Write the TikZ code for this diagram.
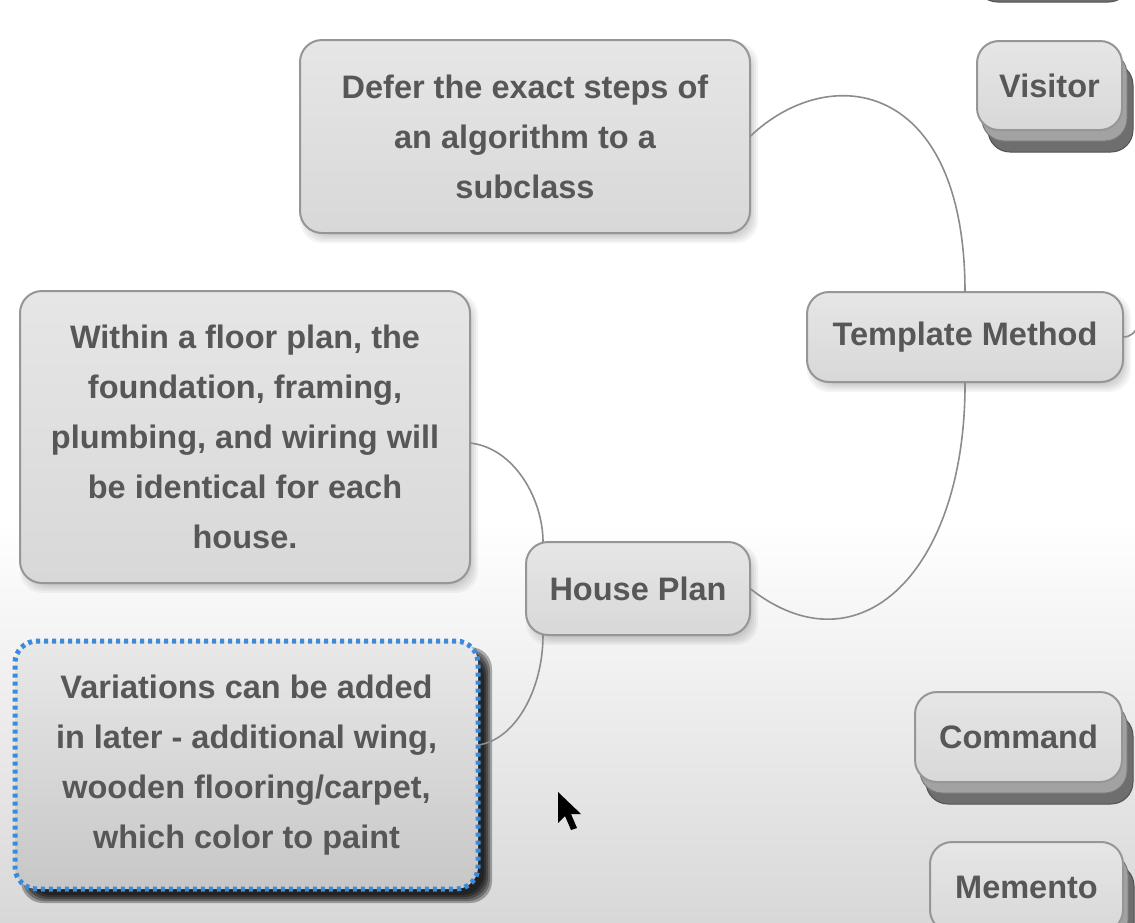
\documentclass[tikz,border=0pt]{standalone}
\usepackage{fontspec}
\setmainfont{Liberation Sans}
\usetikzlibrary{calc}
\definecolor{boxtop}{HTML}{E6E6E6}
\definecolor{boxbot}{HTML}{D8D8D8}
\definecolor{boxline}{HTML}{969696}
\definecolor{txtc}{HTML}{575757}
\definecolor{connc}{HTML}{8C8C8C}
\definecolor{selblue}{HTML}{3C8BDB}
\definecolor{layermid}{HTML}{A2A2A2}
\definecolor{layerdark}{HTML}{6E6E6E}
\definecolor{bgbot}{HTML}{D8D8D8}
\pgfdeclarelayer{bgl}
\pgfdeclarelayer{shadowl}
\pgfsetlayers{bgl,shadowl,main}
\tikzset{
  mbox/.style={draw=boxline, line width=2pt, rounded corners=22pt,
    top color=boxtop, bottom color=boxbot, text=txtc,
    font=\fontsize{32.5}{50}\selectfont\bfseries, align=center,
    inner sep=0pt, outer sep=0pt},
  selbox/.style={mbox, draw=selblue, line width=5pt, dash pattern=on 4pt off 4pt,
    top color=boxtop!90!white, bottom color=boxbot!92!black},
  conn/.style={draw=connc, line width=1.6pt},
  darklayer/.style={fill=layerdark, draw=layerdark!75!black, line width=1pt, rounded corners=22pt},
  midlayer/.style={fill=layermid, draw=layermid!75!black, line width=1pt, rounded corners=22pt},
}
\newcommand{\softshadow}[4]{%
  \begin{pgfonlayer}{shadowl}
    \foreach \k in {-4,-2,0,2,4}{
      \fill[black, opacity=#4, rounded corners=22pt]
        ($(#1.north west)+({#2+\k},{#3+\k})$) rectangle ($(#1.south east)+({#2-\k},{#3-\k})$);
    }
  \end{pgfonlayer}}
\newcommand{\stacklayers}[1]{%
  \begin{pgfonlayer}{shadowl}
    \path[darklayer] ($(#1.north west)+(11,22)$) rectangle ($(#1.south east)+(11,22)$);
    \path[midlayer] ($(#1.north west)+(5,11)$) rectangle ($(#1.south east)+(5,11)$);
  \end{pgfonlayer}}
\begin{document}
\begin{tikzpicture}[x=1pt, y=-1pt]
\useasboundingbox (0,0) rectangle (1135,922);
\clip (0,0) rectangle (1135,922);
\begin{pgfonlayer}{bgl}
  \fill[white] (0,0) rectangle (1135,922);
  \shade[top color=white, bottom color=bgbot] (0,520) rectangle (1135,922);
\end{pgfonlayer}

% nodes
\node[mbox, minimum width=155pt, minimum height=90pt] (topn) at (1042,-65) {};
\node[mbox, minimum width=145pt, minimum height=89pt] (visitor) at (1049.5,85.5) {Visitor};
\node[mbox, minimum width=450pt, minimum height=193pt] (defer) at (525,136.5)
  {Defer the exact steps of\\an algorithm to a\\subclass};
\node[mbox, minimum width=316pt, minimum height=90pt] (tm) at (965,337) {Template Method};
\node[mbox, minimum width=450pt, minimum height=292pt] (within) at (245,437)
  {Within a floor plan, the\\foundation, framing,\\plumbing, and wiring will\\be identical for each\\house.};
\node[mbox, minimum width=224pt, minimum height=93pt] (hp) at (638,588.5) {House Plan};
\node[selbox, minimum width=463pt, minimum height=248pt] (var) at (246.5,765)
  {Variations can be added\\in later - additional wing,\\wooden flooring/carpet,\\which color to paint};
\node[mbox, minimum width=207pt, minimum height=90pt] (command) at (1018.5,737) {Command};
\node[mbox, minimum width=193pt, minimum height=90pt] (memento) at (1026.5,887) {Memento};

% 3D stacked layers
\stacklayers{topn}
\stacklayers{visitor}
\stacklayers{command}
\stacklayers{memento}

% soft shadows
\softshadow{defer}{4}{6}{0.045}
\softshadow{within}{4}{6}{0.045}
\softshadow{tm}{4}{6}{0.045}
\softshadow{hp}{4}{6}{0.045}
\softshadow{var}{10}{10}{0.3}

% connectors
\coordinate (tmout) at (1150,300);
\draw[conn] (defer.east) .. controls (830,60) and (965,80) .. (tm.north);
\draw[conn] (tm.south) .. controls (966,570) and (860,675) .. (hp.east);
\draw[conn] ([shift={(0,6)}]within.east) .. controls (515,448) and (543,500) .. ([shift={(17,0)}]hp.north west);
\draw[conn] ([shift={(17,0)}]hp.south west) .. controls (543,690) and (515,740) .. ([shift={(0,-20)}]var.east);
\draw[conn] (tm.east) .. controls (1138,337) and (1140,320) .. (tmout);

% mouse pointer
\fill[black] (558,792) -- (558,823) -- (565,816) -- (571,830) -- (577,828) -- (571,814) -- (581,814) -- cycle;
\end{tikzpicture}
\end{document}
